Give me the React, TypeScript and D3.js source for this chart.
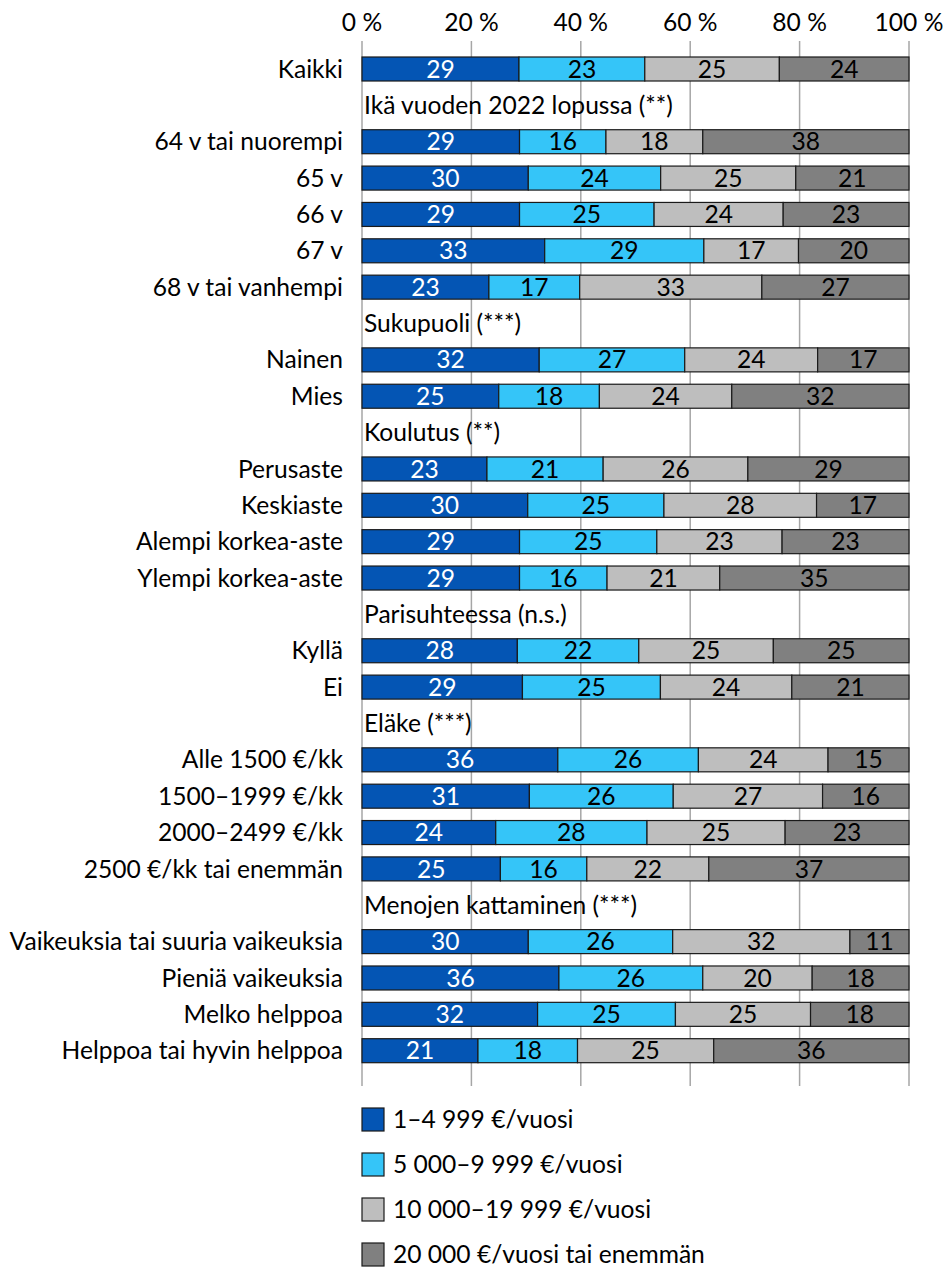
import * as d3 from 'd3'

const width = 951,
      height = 1267,
      fontFamily = 'Lato, sans-serif',
      fontSize = 24.6

const rows = [
  'Kaikki',
  'Ikä vuoden 2022 lopussa (**)',
  '64 v tai nuorempi', '65 v', '66 v', '67 v', '68 v tai vanhempi',
  'Sukupuoli (***)',
  'Nainen', 'Mies',
  'Koulutus (**)',
  'Perusaste', 'Keskiaste', 'Alempi korkea-aste', 'Ylempi korkea-aste',
  'Parisuhteessa (n.s.)',
  'Kyllä', 'Ei',
  'Eläke (***)',
  'Alle 1500 €/kk', '1500–1999 €/kk', '2000–2499 €/kk', '2500 €/kk tai enemmän',
  'Menojen kattaminen (***)',
  'Vaikeuksia tai suuria vaikeuksia', 'Pieniä vaikeuksia', 'Melko helppoa', 'Helppoa tai hyvin helppoa'
]

const headers = [
  'Ikä vuoden 2022 lopussa (**)', 'Sukupuoli (***)', 'Koulutus (**)',
  'Parisuhteessa (n.s.)', 'Eläke (***)', 'Menojen kattaminen (***)'
]

const seriesNames = [
  '1–4 999 €/vuosi',
  '5 000–9 999 €/vuosi',
  '10 000–19 999 €/vuosi',
  '20 000 €/vuosi tai enemmän'
]

const colors = ['#0455b4', '#35c5f8', '#bebebe', '#808080']

// shares in %, bars in the order of rows (headers skipped)
const under5k   = [28.7, 28.8, 30.4, 28.8, 33.4, 23.2, 32.4, 25.0, 22.8, 30.3, 28.8, 28.8, 28.4, 29.3, 35.8, 30.6, 24.4, 25.3, 30.4, 36.0, 32.1, 21.2]
const under10k  = [23.0, 15.8, 24.2, 24.6, 29.1, 16.6, 26.6, 18.4, 21.2, 24.9, 25.1, 16.0, 22.2, 25.2, 25.7, 26.3, 27.6, 15.8, 26.4, 26.3, 25.2, 18.2]
const under20k  = [24.6, 17.7, 24.7, 23.6, 17.3, 33.3, 24.3, 24.2, 26.4, 27.9, 22.9, 20.6, 24.6, 24.0, 23.7, 27.3, 25.2, 22.3, 32.4, 20.0, 24.7, 24.9]
const over20k   = [23.7, 37.7, 20.7, 23.0, 20.2, 26.9, 16.7, 32.4, 29.4, 16.9, 23.2, 34.6, 24.8, 21.4, 14.8, 15.8, 22.6, 36.6, 10.8, 17.7, 18.0, 35.7]

const barRows = rows.filter(r => !headers.includes(r))
const keys = ['a', 'b', 'c', 'd']
const table = barRows.map((label, i) => ({
  label, a: under5k[i], b: under10k[i], c: under20k[i], d: over20k[i]
}))

const x = d3.scaleLinear().domain([0, 1]).range([362, 909])
const y = d3.scalePoint().domain(rows).range([69, 1050.7])
const barH = 24
const ticks = d3.range(0, 1.01, 0.2)

const stacked = d3.stack().keys(keys).offset(d3.stackOffsetExpand)(table as any)

export default function App() {
  return (
    <svg width={width} height={height} style={{ position: 'absolute', left: 0, top: 0, background: '#fff' }}
      fontFamily={fontFamily} fontSize={fontSize}>
      <g className='grid'>
        {ticks.map(t => (
          <g key={t}>
            <line x1={x(t)} x2={x(t)} y1={41} y2={1086} stroke='#a6a6a6' strokeWidth={1.5} />
            <text x={x(t)} y={31} textAnchor='middle' fill='#000'>{Math.round(t * 100)} %</text>
          </g>
        ))}
      </g>

      <g className='labels'>
        {rows.map(r => headers.includes(r)
          ? <text key={r} x={x(0) + 2} y={y(r)} dy='0.35em' fill='#000'>{r}</text>
          : <text key={r} x={343} y={y(r)} dy='0.35em' textAnchor='end' fill='#000'>{r}</text>
        )}
      </g>

      <g className='bars'>
        {stacked.map((s, si) => s.map((d: any) => {
          const cy = y(d.data.label)!
          const x0 = x(d[0]), x1 = x(d[1])
          return (
            <g key={si + d.data.label}>
              <rect x={x0} y={cy - barH / 2} width={x1 - x0} height={barH}
                fill={colors[si]} stroke='#1a1a1a' strokeWidth={1.2} />
              <text x={(x0 + x1) / 2} y={cy} dy='0.35em' textAnchor='middle'
                fill={si === 0 ? '#fff' : '#000'}>{Math.round(d.data[keys[si]])}</text>
            </g>
          )
        }))}
      </g>

      <g className='legend'>
        {seriesNames.map((n, i) => (
          <g key={n} transform={`translate(362, ${1108 + i * 45})`}>
            <rect x={0} y={0} width={22} height={23} fill={colors[i]} stroke='#1a1a1a' strokeWidth={1.2} />
            <text x={31} y={11.5} dy='0.35em' fill='#000'>{n}</text>
          </g>
        ))}
      </g>
    </svg>
  )
}
